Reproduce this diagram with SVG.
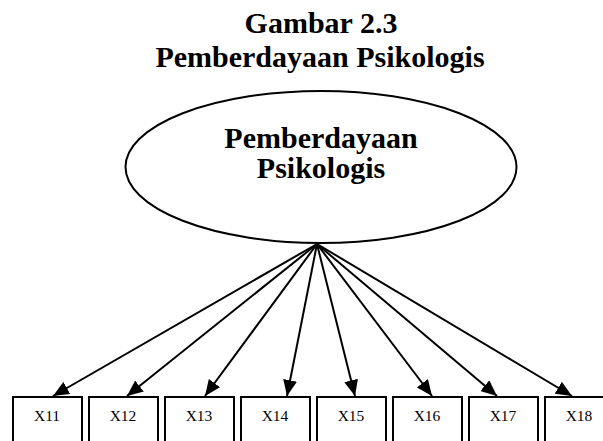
<svg xmlns="http://www.w3.org/2000/svg" width="603" height="441" viewBox="0 0 603 441">
  <style>
    .title { font-family: "Liberation Serif", "Times New Roman", serif; font-weight: bold; font-size: 30px; fill: #000; text-anchor: middle; }
    .box { fill: #fff; stroke: #000; stroke-width: 2; }
    .lbl { font-family: "Liberation Serif", "Times New Roman", serif; font-size: 15.5px; fill: #000; text-anchor: middle; }
    .edge { stroke: #000; stroke-width: 2; fill: none; marker-end: url(#arrow); }
  </style>
  <defs>
    <marker id="arrow" viewBox="0 0 16 14" refX="16" refY="7" markerWidth="16" markerHeight="14" markerUnits="userSpaceOnUse" orient="auto">
      <path d="M0,0 L16,7 L0,14 z" fill="#000"/>
    </marker>
  </defs>
  <rect width="603" height="441" fill="#fff"/>

  <g id="heading">
    <text class="title" x="321" y="33">Gambar 2.3</text>
    <text class="title" x="320" y="67">Pemberdayaan Psikologis</text>
  </g>

  <g id="latent">
    <ellipse cx="321" cy="167" rx="195.5" ry="76" fill="#fff" stroke="#000" stroke-width="2"/>
    <text class="title" x="321" y="148">Pemberdayaan</text>
    <text class="title" x="321" y="178">Psikologis</text>
  </g>

  <g id="connectors">
    <line class="edge" x1="317" y1="244" x2="53" y2="396"/>
    <line class="edge" x1="317" y1="244" x2="127" y2="396"/>
    <line class="edge" x1="317" y1="244" x2="205" y2="396"/>
    <line class="edge" x1="317" y1="244" x2="287" y2="396"/>
    <line class="edge" x1="317" y1="244" x2="355" y2="396"/>
    <line class="edge" x1="317" y1="244" x2="432" y2="396"/>
    <line class="edge" x1="317" y1="244" x2="497" y2="396"/>
    <line class="edge" x1="317" y1="244" x2="572" y2="396"/>
  </g>

  <g id="x11"><rect class="box" x="13" y="397" width="69" height="60"/><text class="lbl" x="47" y="421">X11</text></g>
  <g id="x12"><rect class="box" x="89" y="397" width="69" height="60"/><text class="lbl" x="123" y="421">X12</text></g>
  <g id="x13"><rect class="box" x="165" y="397" width="69" height="60"/><text class="lbl" x="199" y="421">X13</text></g>
  <g id="x14"><rect class="box" x="241" y="397" width="69" height="60"/><text class="lbl" x="275" y="421">X14</text></g>
  <g id="x15"><rect class="box" x="317" y="397" width="69" height="60"/><text class="lbl" x="351" y="421">X15</text></g>
  <g id="x16"><rect class="box" x="393" y="397" width="69" height="60"/><text class="lbl" x="427" y="421">X16</text></g>
  <g id="x17"><rect class="box" x="469" y="397" width="69" height="60"/><text class="lbl" x="503" y="421">X17</text></g>
  <g id="x18"><rect class="box" x="545" y="397" width="69" height="60"/><text class="lbl" x="579" y="421">X18</text></g>
</svg>
